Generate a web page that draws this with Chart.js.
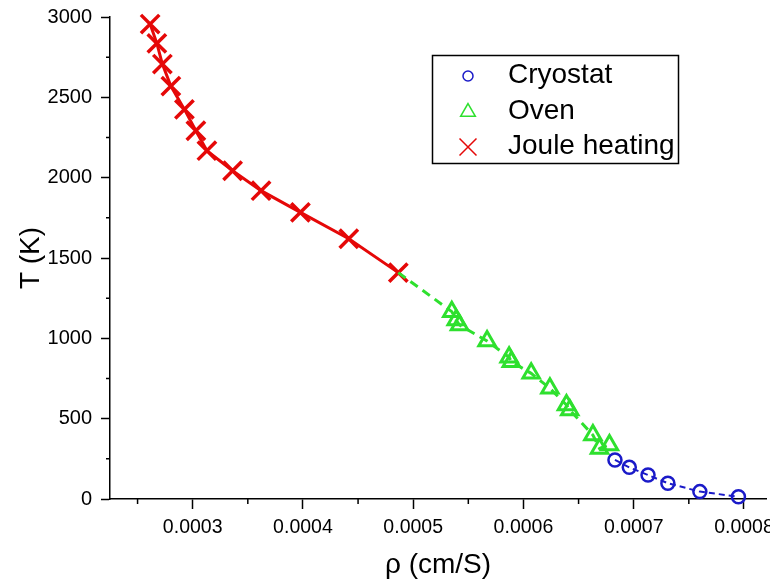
<!DOCTYPE html>
<html>
<head>
<meta charset="utf-8">
<script src="https://cdn.jsdelivr.net/npm/chart.js@4.4.0/dist/chart.umd.min.js"></script>
<style>
  html, body { margin: 0; padding: 0; background: #fff; }
  #wrap { width: 770px; height: 582px; }
</style>
</head>
<body>
<div id="wrap"><canvas id="chart" width="770" height="582"></canvas></div>
<script>
// values
const rhoCryostat = [0.000683, 0.000696, 0.000713, 0.000731, 0.000760, 0.000795];
const tCryostat   = [243, 197, 149, 98, 46, 14];

const rhoOven = [0.000535, 0.000539, 0.000542, 0.000567, 0.000587, 0.000589, 0.000607,
                 0.000624, 0.000639, 0.000642, 0.000663, 0.000669, 0.000678];
const tOven   = [1166, 1114, 1083, 983, 882, 855, 782, 689, 585, 554, 398, 315, 336];

const rhoJoule = [0.0002614, 0.0002675, 0.0002725, 0.0002802, 0.0002925, 0.0003029,
                  0.0003129, 0.0003362, 0.000362, 0.0003977, 0.0004416, 0.0004865];
const tJoule   = [2956, 2836, 2707, 2570, 2425, 2292, 2168, 2043, 1919, 1784, 1620, 1409];

const seriesNames = ['Cryostat', 'Oven', 'Joule heating'];

const xMajor = [0.0003, 0.0004, 0.0005, 0.0006, 0.0007, 0.0008];
const xMinor = [0.00025, 0.00035, 0.00045, 0.00055, 0.00065, 0.00075];
const yMajor = [0, 500, 1000, 1500, 2000, 2500, 3000];
const yMinor = [250, 750, 1250, 1750, 2250, 2750];

const BLUE = '#1a1ac8';
const GREEN = '#2ee02e';
const RED = '#e50808';
const FONT = "'Liberation Sans', Arial, sans-serif";

const toPoints = (xs, ys) => xs.map((x, i) => ({ x: x, y: ys[i] }));

// the green dashed line starts at the last Joule point
const ovenPoints = [{ x: rhoJoule[rhoJoule.length - 1], y: tJoule[tJoule.length - 1] }]
  .concat(toPoints(rhoOven, tOven));

const minorTicks = {
    id: 'minorTicks',
    afterDraw(chart) {
        const ctx = chart.ctx;
        const xs = chart.scales.x, ys = chart.scales.y;
        ctx.save();
        ctx.strokeStyle = '#000';
        ctx.lineWidth = 1.5;
        ctx.beginPath();
        xMinor.forEach(v => {
            const p = xs.getPixelForValue(v);
            ctx.moveTo(p, xs.top); ctx.lineTo(p, xs.top + 5);
        });
        yMinor.forEach(v => {
            const p = ys.getPixelForValue(v);
            ctx.moveTo(ys.right, p); ctx.lineTo(ys.right - 4, p);
        });
        ctx.stroke();
        ctx.restore();
    }
};

const boxLegend = {
    id: 'boxLegend',
    afterDraw(chart) {
        const ctx = chart.ctx;
        ctx.save();
        ctx.strokeStyle = '#000';
        ctx.lineWidth = 1.5;
        ctx.strokeRect(432.5, 55.5, 246, 108);
        const styles = [
            { pointStyle: 'circle', radius: 5, color: BLUE },
            { pointStyle: 'triangle', radius: 8.5, color: GREEN },
            { pointStyle: 'crossRot', radius: 12, color: RED }
        ];
        const rows = [75, 111, 146];
        ctx.font = '28px ' + FONT;
        ctx.textBaseline = 'middle';
        ctx.textAlign = 'left';
        seriesNames.forEach((name, i) => {
            const s = styles[i];
            ctx.strokeStyle = s.color;
            ctx.fillStyle = 'rgba(0,0,0,0)';
            Chart.helpers.drawPoint(ctx, { pointStyle: s.pointStyle, radius: s.radius, borderWidth: 2, rotation: 0 }, 468, rows[i] + 1);
            ctx.fillStyle = '#000';
            ctx.fillText(name, 508, rows[i]);
        });
        ctx.restore();
    }
};

new Chart(document.getElementById('chart'), {
    type: 'scatter',
    data: {
        datasets: [
            {
                label: seriesNames[0],
                data: toPoints(rhoCryostat, tCryostat),
                showLine: true,
                borderColor: BLUE,
                backgroundColor: 'rgba(0,0,0,0)',
                borderWidth: 2,
                borderDash: [6, 4],
                pointStyle: 'circle',
                pointRadius: 6.5,
                pointBorderWidth: 2.5,
                pointBorderColor: BLUE,
                clip: false
            },
            {
                label: seriesNames[1],
                data: ovenPoints,
                showLine: true,
                borderColor: GREEN,
                backgroundColor: 'rgba(0,0,0,0)',
                borderWidth: 3,
                borderDash: [9, 6],
                pointStyle: 'triangle',
                pointRadius: ctx => ctx.dataIndex === 0 ? 0 : 9.5,
                pointBorderWidth: 3,
                pointBorderColor: GREEN,
                clip: false
            },
            {
                label: seriesNames[2],
                data: toPoints(rhoJoule, tJoule),
                showLine: true,
                borderColor: RED,
                backgroundColor: 'rgba(0,0,0,0)',
                borderWidth: 3,
                pointStyle: 'crossRot',
                pointRadius: 13,
                pointBorderWidth: 3.5,
                pointBorderColor: RED,
                clip: false
            }
        ]
    },
    options: {
        responsive: false,
        animation: false,
        layout: { autoPadding: false, padding: { left: 0, top: 17, right: 4, bottom: 0 } },
        plugins: {
            legend: { display: false },
            tooltip: { enabled: false }
        },
        scales: {
            x: {
                type: 'linear',
                min: 0.000225,
                max: 0.00082,
                afterBuildTicks: s => { s.ticks = xMajor.map(v => ({ value: v })); },
                afterFit: s => { s.height = 83; s.paddingLeft = 0; s.paddingRight = 0; },
                ticks: {
                    color: '#000',
                    font: { family: FONT, size: 19.5 },
                    padding: 7,
                    maxRotation: 0,
                    autoSkip: false,
                    callback: v => v.toFixed(4)
                },
                grid: { drawOnChartArea: false, drawTicks: true, tickLength: 10, tickWidth: 1.5, tickColor: '#000' },
                border: { color: '#000', width: 1.5 },
                title: {
                    display: true,
                    text: 'ρ (cm/S)',
                    color: '#000',
                    font: { family: FONT, size: 28 },
                    padding: { top: 0, bottom: 0 }
                }
            },
            y: {
                type: 'linear',
                min: 0,
                max: 3000,
                afterBuildTicks: s => { s.ticks = yMajor.map(v => ({ value: v })); },
                afterFit: s => { s.width = 110; s.paddingTop = 0; s.paddingBottom = 0; },
                ticks: {
                    color: '#000',
                    font: { family: FONT, size: 20 },
                    padding: 9,
                    callback: v => String(v)
                },
                grid: { drawOnChartArea: false, drawTicks: true, tickLength: 9, tickWidth: 1.5, tickColor: '#000' },
                border: { color: '#000', width: 1.5 },
                title: {
                    display: true,
                    text: 'T (K)',
                    color: '#000',
                    font: { family: FONT, size: 28 },
                    padding: { top: 14, bottom: 0 }
                }
            }
        }
    },
    plugins: [minorTicks, boxLegend]
});
</script>
</body>
</html>
